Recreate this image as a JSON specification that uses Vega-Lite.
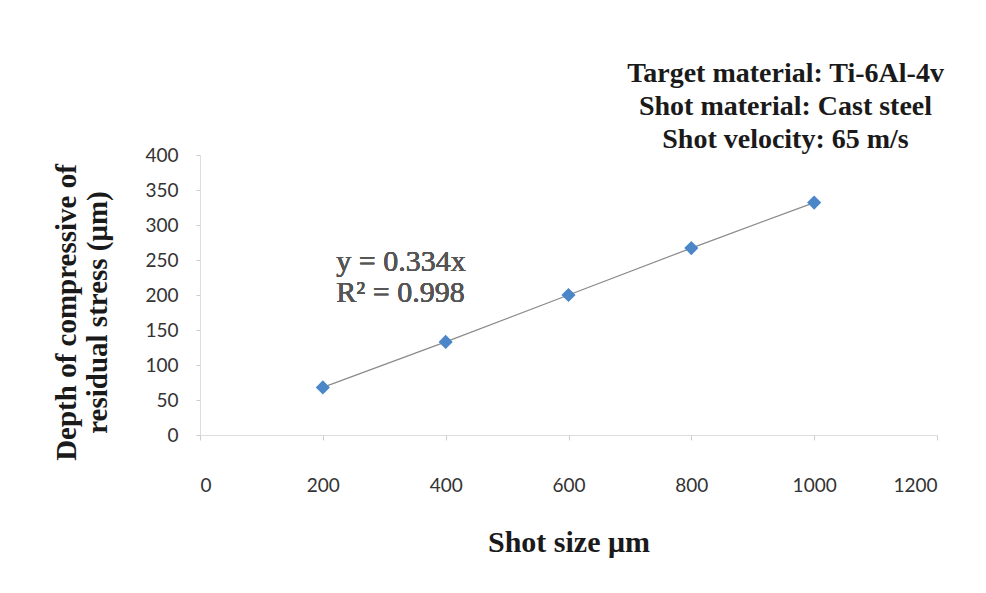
{
  "$schema": "https://vega.github.io/schema/vega-lite/v6.json",
  "autosize": {"type": "none"},
  "width": 737,
  "height": 280,
  "padding": {"left": 200, "top": 155, "right": 49, "bottom": 158},
  "background": "white",
  "config": {"view": {"stroke": null}},
  "title": {
    "text": ["Target material: Ti-6Al-4v", "Shot material: Cast steel", "Shot velocity: 65 m/s"],
    "anchor": "end",
    "align": "center",
    "dx": -152,
    "font": "Liberation Serif",
    "fontSize": 28,
    "fontWeight": "bold",
    "color": "#1a1a1a",
    "lineHeight": 33,
    "offset": -8
  },
  "data": {
    "values": [
      {"shot_size": 200, "depth": 68},
      {"shot_size": 400, "depth": 133},
      {"shot_size": 600, "depth": 200},
      {"shot_size": 800, "depth": 267},
      {"shot_size": 1000, "depth": 332}
    ]
  },
  "encoding": {
    "x": {
      "field": "shot_size",
      "type": "quantitative",
      "scale": {"domain": [0, 1200], "nice": false},
      "axis": {
        "values": [0, 200, 400, 600, 800, 1000, 1200],
        "format": "d",
        "title": "Shot size μm",
        "titleFont": "Liberation Serif",
        "titleFontSize": 30,
        "titleFontWeight": "bold",
        "titleColor": "#1a1a1a",
        "titlePadding": 32,
        "labelFont": "Lato",
        "labelFontSize": 19,
        "labelColor": "#333333",
        "labelPadding": 36,
        "grid": false,
        "domainColor": "#dddddd",
        "tickColor": "#cccccc",
        "tickSize": 5
      }
    },
    "y": {
      "field": "depth",
      "type": "quantitative",
      "scale": {"domain": [0, 400], "nice": false},
      "axis": {
        "values": [0, 50, 100, 150, 200, 250, 300, 350, 400],
        "format": "d",
        "title": ["Depth of compressive of", "residual stress (μm)"],
        "titleFont": "Liberation Serif",
        "titleFontSize": 29,
        "titleFontWeight": "bold",
        "titleColor": "#1a1a1a",
        "titleLineHeight": 31,
        "titlePadding": 32,
        "titleY": 157,
        "labelFont": "Lato",
        "labelFontSize": 19,
        "labelColor": "#333333",
        "labelPadding": 18,
        "grid": false,
        "domainColor": "#dddddd",
        "tickColor": "#cccccc",
        "tickSize": 4
      }
    }
  },
  "layer": [
    {
      "mark": {"type": "line", "color": "#8a8a8a", "strokeWidth": 1.2}
    },
    {
      "mark": {"type": "point", "shape": "diamond", "filled": true, "color": "#4a86c8", "size": 200, "opacity": 1}
    },
    {
      "mark": {"type": "text", "align": "left", "baseline": "middle", "font": "Liberation Serif", "fontSize": 30, "fontWeight": "normal", "color": "#555555"},
      "encoding": {
        "x": {"datum": 222},
        "y": {"datum": 247},
        "text": {"value": "y = 0.334x"}
      }
    },
    {
      "mark": {"type": "text", "align": "left", "baseline": "middle", "font": "Liberation Serif", "fontSize": 30, "fontWeight": "normal", "color": "#555555"},
      "encoding": {
        "x": {"datum": 222},
        "y": {"datum": 203},
        "text": {"value": "R² = 0.998"}
      }
    }
  ]
}
